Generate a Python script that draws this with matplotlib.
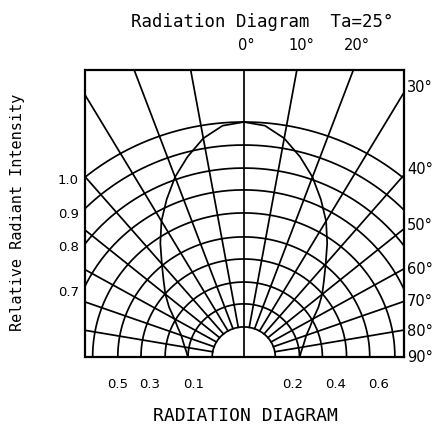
import numpy as np
import matplotlib
matplotlib.use("Agg")
from matplotlib import pyplot as plt

# grid of the polar chart (radius 1.0 = outer arc)
arc_radii = [0.128, 0.226, 0.319, 0.417, 0.511, 0.613, 0.711, 0.804, 0.902, 1.0]
spoke_angles = [-80, -70, -60, -50, -40, -30, -20, -10, 0, 10, 20, 30, 40, 50, 60, 70, 80]

# radiation pattern (angle in deg, radius)
curve_angle = [0, 5, 10, 15, 20, 25, 30, 35, 40, 45, 50, 55, 60, 65, 70, 75, 80, 85, 90]
curve_r = [1.0, 0.988, 0.945, 0.882, 0.815, 0.74, 0.668, 0.59, 0.517, 0.46, 0.415,
           0.37, 0.325, 0.295, 0.27, 0.255, 0.243, 0.233, 0.227]

top_labels = ["0°", "10°", "20°"]
right_labels = ["30°", "40°", "50°", "60°", "70°", "80°", "90°"]
left_labels = ["1.0", "0.9", "0.8", "0.7"]
bottom_labels = ["0.5", "0.3", "0.1", "0.2", "0.4", "0.6"]

W, H = 435, 434
fig = plt.figure(figsize=(W / 100, H / 100), dpi=100)

# frame in pixels
L, R, T, B = 85.5, 404, 70, 357
ax = fig.add_axes([L / W, 1 - B / H, (R - L) / W, (B - T) / H])
ax.set_xlim(-0.642, 0.650)
ax.set_ylim(0, (B - T) / 235)
for s in ax.spines.values():
    s.set_linewidth(1.6)
ax.set_xticks([])
ax.set_yticks([])

lw = 1.25
t = np.linspace(0, np.pi, 400)
for r in arc_radii:
    ax.plot(r * np.cos(t), r * np.sin(t), color="black", lw=lw)

for a in spoke_angles:
    th = np.radians(a)
    r0 = 0 if a == 0 else arc_radii[0]
    ax.plot([r0 * np.sin(th), 3 * np.sin(th)], [r0 * np.cos(th), 3 * np.cos(th)],
            color="black", lw=lw)

ca = np.radians(np.array(curve_angle, dtype=float))
cr = np.array(curve_r)
ax.plot(cr * np.sin(ca), cr * np.cos(ca), color="black", lw=lw)
ax.plot(-cr * np.sin(ca), cr * np.cos(ca), color="black", lw=lw)


def px(x, y):
    return x / W, 1 - y / H


narrow = ["Liberation Sans Narrow", "DejaVu Sans"]
mono = ["DejaVu Sans Mono"]

for lab, x in zip(top_labels, [246, 301, 357]):
    fig.text(*px(x, 45), lab, ha="center", va="center", fontsize=10.5, family=narrow)
for lab, y in zip(right_labels, [87, 170, 226, 269, 302, 331, 357]):
    fig.text(*px(407, y), lab, ha="left", va="center", fontsize=10.5, family=narrow)
for lab, x in zip(bottom_labels, [118, 150, 194, 293, 336, 379]):
    fig.text(*px(x, 384), lab, ha="center", va="center", fontsize=9.5, family=narrow)
for lab, y in zip(left_labels, [181, 214, 247, 292]):
    fig.text(*px(79, y), lab, ha="right", va="center", fontsize=9.5, family=narrow)

fig.text(*px(262, 22), "Radiation Diagram  Ta=25°", ha="center", va="center",
         fontsize=12.5, family=mono)
fig.text(*px(245, 416), "RADIATION DIAGRAM", ha="center", va="center",
         fontsize=13, family=mono)
fig.text(*px(18, 212), "Relative Radiant Intensity", ha="center", va="center",
         rotation=90, fontsize=11, family=mono)

plt.savefig("out.png", dpi=100)
plt.close()
